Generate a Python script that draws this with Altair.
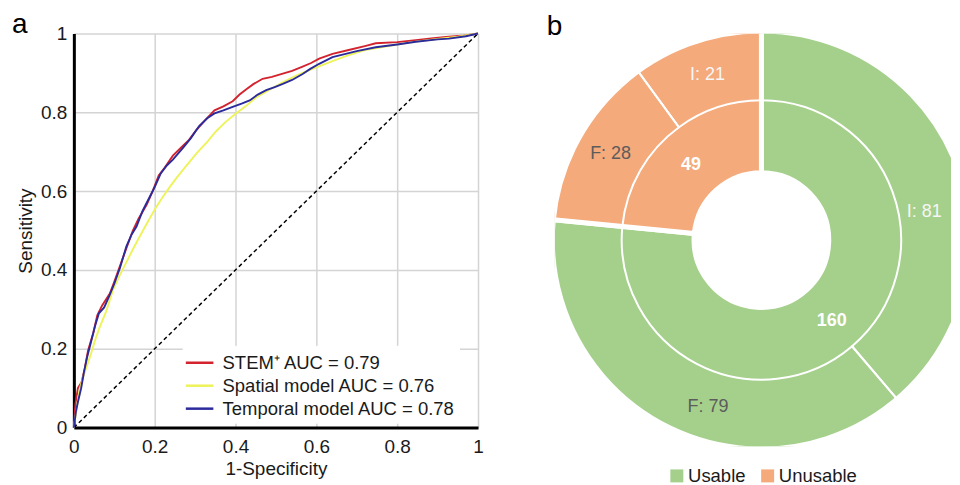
import altair as alt
import pandas as pd

FONT = "Liberation Sans"

# ---------------- Panel a: ROC curves ----------------
stem_fpr = [0, 0.004, 0.010, 0.019, 0.027, 0.035, 0.048, 0.058, 0.070, 0.089, 0.100, 0.114, 0.130,
            0.146, 0.160, 0.180, 0.195, 0.210, 0.225, 0.245, 0.260, 0.270, 0.285, 0.303, 0.325,
            0.348, 0.370, 0.393, 0.410, 0.426, 0.445, 0.467, 0.490, 0.517, 0.540, 0.566, 0.587,
            0.607, 0.640, 0.680, 0.720, 0.747, 0.800, 0.846, 0.890, 0.928, 0.960, 1.0]
stem_tpr = [0, 0.060, 0.100, 0.115, 0.150, 0.195, 0.240, 0.285, 0.310, 0.340, 0.370, 0.410, 0.455,
            0.500, 0.530, 0.565, 0.600, 0.640, 0.660, 0.690, 0.705, 0.715, 0.730, 0.755, 0.780,
            0.805, 0.815, 0.828, 0.845, 0.858, 0.872, 0.885, 0.890, 0.898, 0.905, 0.916, 0.925,
            0.936, 0.948, 0.958, 0.968, 0.975, 0.978, 0.983, 0.988, 0.992, 0.994, 1.0]

spatial_fpr = [0, 0.005, 0.010, 0.015, 0.025, 0.040, 0.052, 0.064, 0.080, 0.097, 0.113, 0.130, 0.150,
               0.171, 0.190, 0.204, 0.220, 0.237, 0.255, 0.275, 0.303, 0.330, 0.352, 0.375, 0.401,
               0.425, 0.451, 0.480, 0.510, 0.540, 0.570, 0.600, 0.640, 0.680, 0.720, 0.760, 0.800,
               0.850, 0.900, 0.950, 1.0]
spatial_tpr = [0, 0.035, 0.070, 0.100, 0.135, 0.180, 0.220, 0.255, 0.295, 0.350, 0.385, 0.420, 0.460,
               0.500, 0.535, 0.560, 0.585, 0.610, 0.635, 0.660, 0.695, 0.725, 0.752, 0.775, 0.797,
               0.815, 0.838, 0.855, 0.872, 0.888, 0.902, 0.914, 0.930, 0.945, 0.958, 0.965, 0.972,
               0.980, 0.986, 0.992, 1.0]

temporal_fpr = [0, 0.005, 0.010, 0.018, 0.025, 0.033, 0.043, 0.053, 0.062, 0.075, 0.088, 0.100, 0.114,
                0.130, 0.143, 0.155, 0.170, 0.185, 0.200, 0.215, 0.230, 0.245, 0.270, 0.290, 0.310,
                0.330, 0.348, 0.370, 0.393, 0.415, 0.435, 0.455, 0.476, 0.497, 0.517, 0.540, 0.566,
                0.585, 0.607, 0.640, 0.700, 0.747, 0.800, 0.846, 0.900, 0.928, 0.970, 1.0]
temporal_tpr = [0, 0.040, 0.065, 0.100, 0.140, 0.180, 0.220, 0.260, 0.290, 0.305, 0.335, 0.365, 0.405,
                0.460, 0.490, 0.510, 0.550, 0.580, 0.610, 0.645, 0.665, 0.680, 0.710, 0.735, 0.765,
                0.785, 0.797, 0.805, 0.814, 0.822, 0.830, 0.845, 0.856, 0.864, 0.872, 0.882, 0.897,
                0.910, 0.923, 0.940, 0.955, 0.965, 0.972, 0.979, 0.985, 0.987, 0.993, 1.0]

series_names = ["STEM\u207a AUC = 0.79", "Spatial model AUC = 0.76", "Temporal model AUC = 0.78"]
series_colors = ["#d2232e", "#eef35a", "#2b2b9c"]

chance_x = [0, 1]
chance_y = [0, 1]

axis_ticks = [0, 0.2, 0.4, 0.6, 0.8, 1]

panel_labels = ["a", "b"]

# ---------------- Panel b: nested donut ----------------
groups = ["Usable", "Unusable"]
group_counts = [160, 49]
group_colors = ["#a5d08c", "#f4aa7b"]

sub_groups = ["Usable", "Usable", "Unusable", "Unusable"]
sub_kinds = ["I", "F", "F", "I"]
sub_counts = [81, 79, 28, 21]

# ---------------- tables ----------------
rows = []
for name, fx, ty in zip(series_names,
                        [stem_fpr, spatial_fpr, temporal_fpr],
                        [stem_tpr, spatial_tpr, temporal_tpr]):
    for i, (a, b) in enumerate(zip(fx, ty)):
        rows.append({"model": name, "fpr": a, "tpr": b, "i": i})
roc = pd.DataFrame(rows)
diag = pd.DataFrame({"fpr": chance_x, "tpr": chance_y})

grp_df = pd.DataFrame({"group": groups, "count": group_counts, "idx": list(range(len(groups)))})
sub_df = pd.DataFrame({
    "group": sub_groups, "kind": sub_kinds, "count": sub_counts,
    "label": [f"{k}: {c}" for k, c in zip(sub_kinds, sub_counts)],
    "idx": list(range(len(sub_counts))),
})


def panel_letter(letter, dx, dy):
    return alt.Chart(pd.DataFrame({"t": [letter]})).mark_text(
        font=FONT, fontSize=28, color="black", align="left", baseline="alphabetic"
    ).encode(text="t:N", x=alt.value(dx), y=alt.value(dy))


# ---------------- panel a ----------------
x_enc = alt.X("fpr:Q", scale=alt.Scale(domain=[0, 1], nice=False),
              axis=alt.Axis(values=axis_ticks, format=".1~f", title="1-Specificity",
                            grid=True, gridColor="#d4d4d4", gridWidth=1.5,
                            domainColor="black", domainWidth=3, ticks=False,
                            labelFont=FONT, labelFontSize=19, labelColor="#1a1a1a",
                            labelPadding=10, titleFont=FONT, titleFontSize=19,
                            titleFontWeight="normal", titleColor="#1a1a1a", titlePadding=3,
                            labelFlush=False))
y_enc = alt.Y("tpr:Q", scale=alt.Scale(domain=[0, 1], nice=False),
              axis=alt.Axis(values=axis_ticks, format=".1~f", title="Sensitivity",
                            grid=True, gridColor="#d4d4d4", gridWidth=1.5,
                            domainColor="black", domainWidth=3, ticks=False,
                            labelFont=FONT, labelFontSize=19, labelColor="#1a1a1a",
                            labelPadding=7, titleFont=FONT, titleFontSize=19,
                            titleFontWeight="normal", titleColor="#1a1a1a", titlePadding=5,
                            labelFlush=False))

chance = alt.Chart(diag).mark_line(color="black", strokeWidth=1.5, strokeDash=[4, 3]).encode(
    x=x_enc, y=y_enc)

curves = alt.Chart(roc).mark_line(strokeWidth=1.9).encode(
    x=x_enc, y=y_enc,
    order="i:Q",
    color=alt.Color("model:N",
                    scale=alt.Scale(domain=series_names, range=series_colors),
                    legend=alt.Legend(title=None, orient="none", legendX=109, legendY=313,
                                      padding=4, fillColor="white", strokeColor="white",
                                      symbolType="M-1.2,0H1.2", symbolSize=529,
                                      symbolStrokeWidth=2.5,
                                      labelFont=FONT, labelFontSize=18.5, labelColor="#1a1a1a",
                                      labelOffset=10, rowPadding=0, labelLimit=400)),
)

panel_a = alt.layer(chance, curves, panel_letter(panel_labels[0], -62, 0)).properties(
    width=405, height=395,
)

# ---------------- panel b ----------------
CX, CY = 207, 207
theta_g = alt.Theta("count:Q", stack=True)

ring_groups = alt.Chart(grp_df).mark_arc(innerRadius=67.5, outerRadius=209.5, stroke="white",
                                         strokeWidth=5, clip=True).encode(
    theta=theta_g, order=alt.Order("idx:Q"),
    color=alt.Color("group:N", scale=alt.Scale(domain=groups, range=group_colors),
                    legend=alt.Legend(title=None, orient="none", legendX=113, legendY=434,
                                      direction="horizontal", symbolType="square",
                                      symbolSize=169, symbolStrokeWidth=0, padding=0,
                                      labelFont=FONT, labelFontSize=18.5, labelColor="#1a1a1a",
                                      labelOffset=2, columnPadding=12)),
    x=alt.value(CX), y=alt.value(CY),
)

ring_subs = alt.Chart(sub_df).mark_arc(innerRadius=140, outerRadius=209.5, stroke="white",
                                       strokeWidth=2, fillOpacity=0, clip=True).encode(
    theta=theta_g, order=alt.Order("idx:Q"),
    x=alt.value(CX), y=alt.value(CY),
)

label_color = alt.condition("datum.kind == 'F'", alt.value("#5c5c5c"), alt.value("#f6f6f6"))


def sub_label_layer(show_idx, dx=0, dy=0):
    cond = " || ".join(f"datum.idx == {k}" for k in show_idx)
    return alt.Chart(sub_df).mark_text(radius=174, font=FONT, fontSize=18, dx=dx, dy=dy).encode(
        theta=theta_g, order=alt.Order("idx:Q"),
        text=alt.condition(cond, "label:N", alt.value("")),
        color=label_color,
        x=alt.value(CX), y=alt.value(CY),
    )


grp_text = alt.Chart(grp_df).mark_text(radius=105, font=FONT, fontSize=18, fontWeight="bold",
                                       color="white", dy=3).encode(
    theta=theta_g, order=alt.Order("idx:Q"),
    text="count:Q",
    x=alt.value(CX), y=alt.value(CY),
)

panel_b = alt.layer(ring_groups, ring_subs,
                    sub_label_layer([2, 3]),
                    sub_label_layer([0], dx=0, dy=32),
                    sub_label_layer([1], dx=27, dy=13),
                    grp_text,
                    panel_letter(panel_labels[1], -8, 2)).properties(
    width=397, height=414,
)

chart = alt.hconcat(panel_a, panel_b, spacing=63).resolve_scale(
    color="independent", theta="independent").resolve_legend(color="independent").properties(
    padding={"left": 4, "top": 3, "right": 0, "bottom": 0}
).configure_view(stroke=None)

chart.save("out.html", embed_options={"renderer": "svg", "actions": False})
